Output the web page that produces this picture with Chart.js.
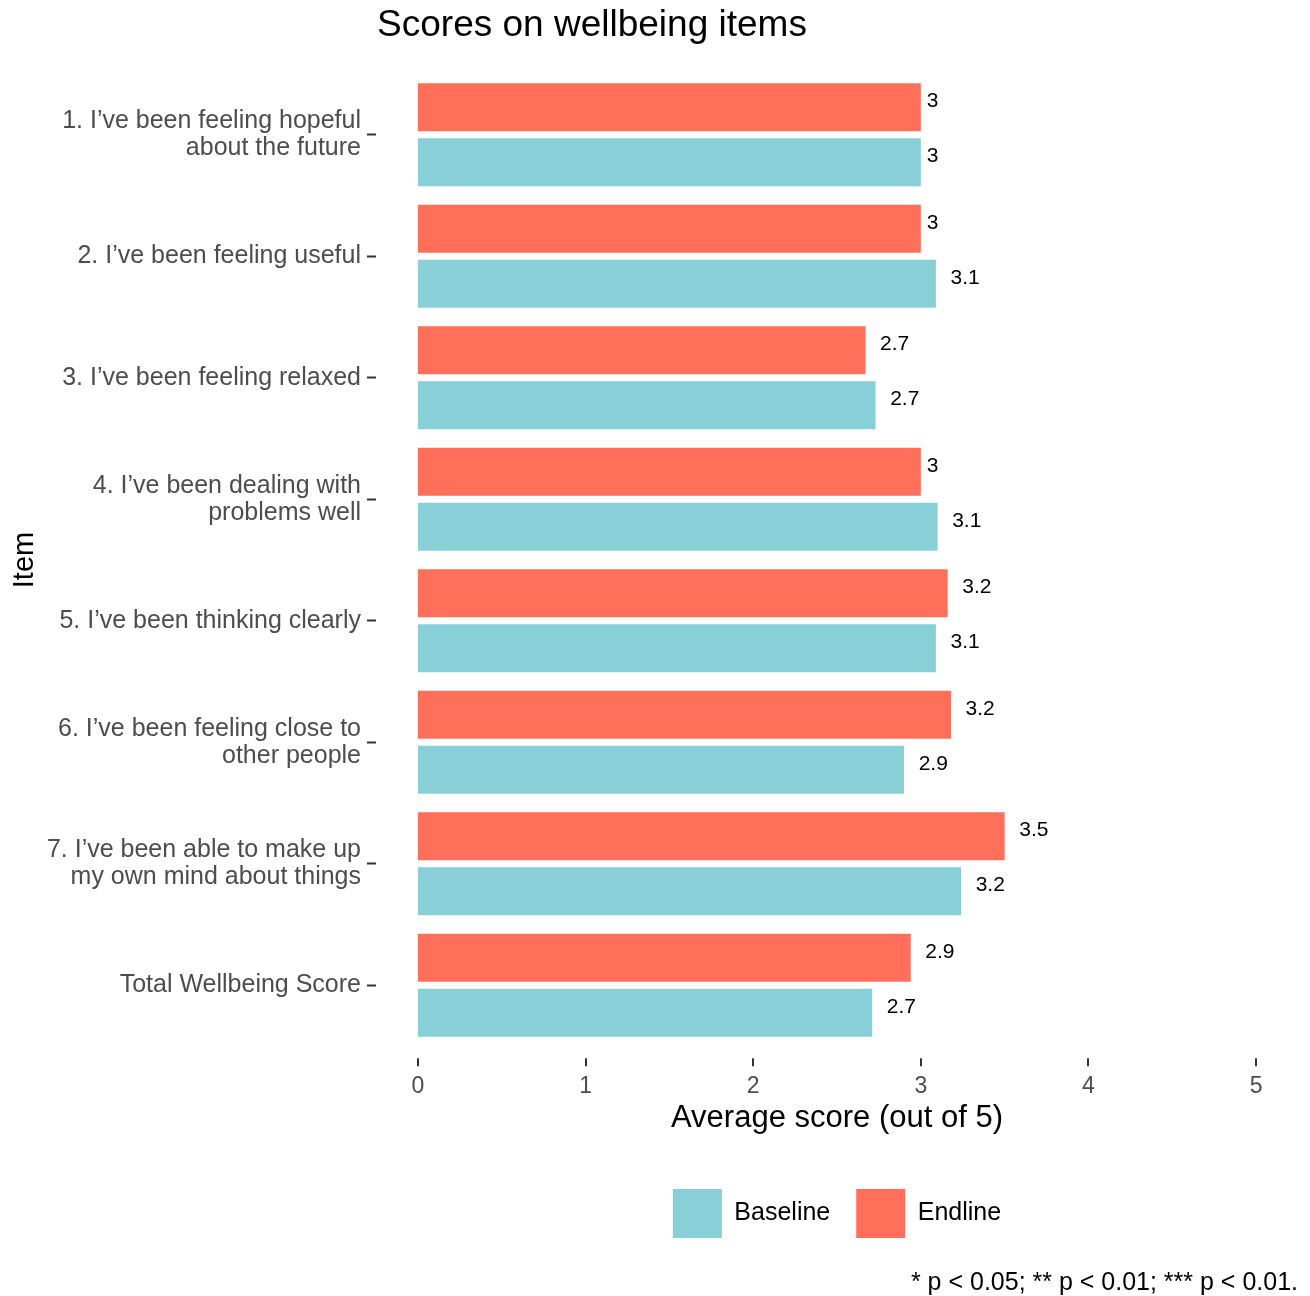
<!DOCTYPE html>
<html>
<head>
<meta charset="utf-8">
<script src="https://cdn.jsdelivr.net/npm/chart.js@4.4.1/dist/chart.umd.min.js"></script>
<style>
  html, body { margin: 0; padding: 0; background: #fff; }
  #wrap { width: 1310px; height: 1296px; position: relative; }
</style>
</head>
<body>
<div id="wrap"><canvas id="wellbeing-chart"></canvas></div>
<script>
const chartTitle = 'Scores on wellbeing items';
const footnote = '* p < 0.05; ** p < 0.01; *** p < 0.01.';
const items = [
  ['1. I’ve been feeling hopeful', 'about the future'],
  '2. I’ve been feeling useful',
  '3. I’ve been feeling relaxed',
  ['4. I’ve been dealing with', 'problems well'],
  '5. I’ve been thinking clearly',
  ['6. I’ve been feeling close to', 'other people'],
  ['7. I’ve been able to make up', 'my own mind about things'],
  'Total Wellbeing Score',
];
const endline = [3.0, 3.0, 2.67, 3.0, 3.16, 3.18, 3.5, 2.94];
const baseline = [3.0, 3.09, 2.73, 3.1, 3.09, 2.9, 3.24, 2.71];
const xTicks = [0, 1, 2, 3, 4, 5];

const FONT = "'Liberation Sans', Arial, Helvetica, sans-serif";
Chart.defaults.font.family = FONT;

const fmt = v => String(Math.round(v * 10) / 10);

// value labels at the end of each bar (hjust = -0.5 style)
const valueLabels = {
  id: 'valueLabels',
  afterDatasetsDraw(chart) {
    const ctx = chart.ctx;
    ctx.save();
    ctx.font = '21px ' + FONT;
    ctx.fillStyle = '#000';
    ctx.textAlign = 'left';
    ctx.textBaseline = 'middle';
    chart.data.datasets.forEach((ds, i) => {
      chart.getDatasetMeta(i).data.forEach((bar, j) => {
        const text = fmt(ds.data[j]);
        const w = ctx.measureText(text).width;
        ctx.fillText(text, bar.x + w * 0.5, bar.y - 6);
      });
    });
    ctx.restore();
  }
};

// plot title and x tick marks
const extras = {
  id: 'extras',
  afterDraw(chart) {
    const ctx = chart.ctx;
    const x = chart.scales.x, y = chart.scales.y;
    ctx.save();
    ctx.font = '37px ' + FONT;
    ctx.fillStyle = '#000';
    ctx.textAlign = 'center';
    ctx.textBaseline = 'middle';
    ctx.fillText(chartTitle, 592, 26);

    const band = y.getPixelForValue(1) - y.getPixelForValue(0);
    const panelBottom = y.getPixelForValue(items.length - 1) + 0.6 * band;
    ctx.strokeStyle = '#333333';
    ctx.lineWidth = 2;
    xTicks.forEach(v => {
      const px = Math.round(x.getPixelForValue(v));
      ctx.beginPath();
      ctx.moveTo(px, panelBottom);
      ctx.lineTo(px, panelBottom + 8);
      ctx.stroke();
    });
    ctx.restore();
  }
};

const ctx = document.getElementById('wellbeing-chart').getContext('2d');
new Chart(ctx, {
  type: 'bar',
  data: {
    labels: items,
    datasets: [
      {
        label: 'Endline',
        data: endline,
        backgroundColor: '#FF6F59',
        borderWidth: 0,
        barPercentage: 0.873,
        categoryPercentage: 0.904,
      },
      {
        label: 'Baseline',
        data: baseline,
        backgroundColor: '#88CFD8',
        borderWidth: 0,
        barPercentage: 0.873,
        categoryPercentage: 0.904,
      },
    ]
  },
  options: {
    indexAxis: 'y',
    responsive: true,
    maintainAspectRatio: false,
    animation: false,
    layout: { padding: { top: 74, right: 12, left: 0, bottom: 0 } },
    scales: {
      x: {
        type: 'linear',
        min: -0.25,
        max: 5.25,
        afterBuildTicks: scale => { scale.ticks = xTicks.map(v => ({ value: v })); },
        afterFit: scale => { scale.height = 117; },
        grid: { display: false },
        border: { display: false },
        ticks: {
          padding: 19,
          color: '#4D4D4D',
          font: { size: 23 },
          callback: v => String(v),
        },
        title: {
          display: true,
          text: 'Average score (out of 5)',
          color: '#000',
          font: { size: 31 },
          padding: { top: 0, bottom: 26 },
        },
      },
      y: {
        afterFit: scale => { scale.width = 376; },
        grid: {
          drawOnChartArea: false,
          drawTicks: true,
          tickLength: 9,
          tickWidth: 2,
          tickColor: '#333333',
          offset: false,
        },
        border: { display: false },
        ticks: {
          padding: 6,
          color: '#4D4D4D',
          font: { size: 25, lineHeight: 1.08 },
          autoSkip: false,
        },
        title: {
          display: true,
          text: 'Item',
          color: '#000',
          font: { size: 29 },
          padding: { top: 8, bottom: 0 },
        },
      },
    },
    plugins: {
      legend: {
        position: 'bottom',
        fullSize: false,
        reverse: true,
        labels: {
          boxWidth: 49,
          boxHeight: 49,
          padding: 26,
          color: '#000',
          font: { size: 25 },
        },
      },
      subtitle: {
        display: true,
        text: footnote,
        position: 'bottom',
        align: 'end',
        color: '#000',
        font: { size: 25, weight: 'normal', lineHeight: 1.0 },
        padding: { top: 23, bottom: 0 },
      },
      tooltip: { enabled: false },
    },
  },
  plugins: [valueLabels, extras],
});
</script>
</body>
</html>
